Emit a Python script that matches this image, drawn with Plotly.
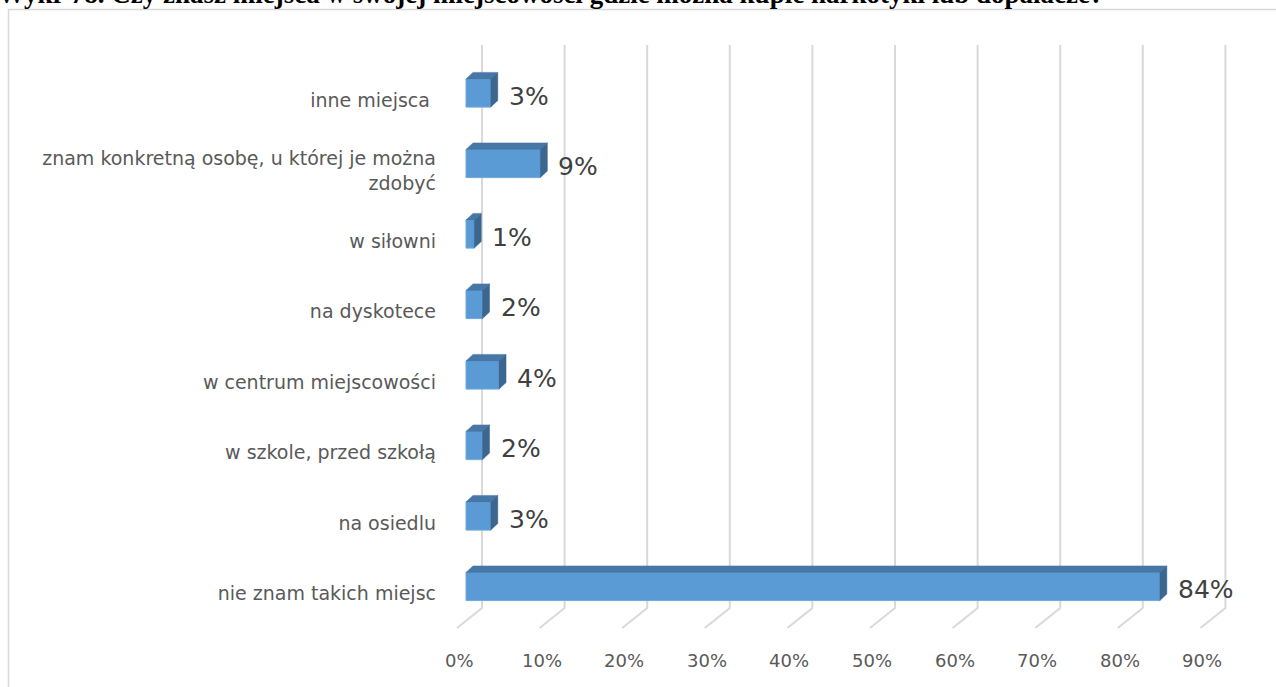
import plotly.graph_objects as go

# ---- data ----
categories = [
    "nie znam takich miejsc",
    "na osiedlu",
    "w szkole, przed szkołą",
    "w centrum miejscowości",
    "na dyskotece",
    "w siłowni",
    "znam konkretną osobę, u której je można<br>zdobyć",
    "inne miejsca ",
]
values = [84, 3, 2, 4, 2, 1, 9, 3]
x_ticks = [0, 10, 20, 30, 40, 50, 60, 70, 80, 90]
x_tick_labels = ["0%", "10%", "20%", "30%", "40%", "50%", "60%", "70%", "80%", "90%"]
title_text = ("<b>Wykr 78. Czy znasz miejsca</b> w <b>swojej miejscowości gdzie można "
              "kupić narkotyki lub dopalacze?</b>")

# ---- layout geometry (pixels) ----
W, H = 1276, 687
ML, MR, MT, MB = 437, 20, 40, 8
PW, PH = W - ML - MR, H - MT - MB
PX_PER_X = 8.26            # pixels per percent
PX_PER_Y = 70.5            # pixels per category
X0_PX = 466                # pixel of x=0 (bar front face)
Y0_PX = 586.5              # pixel of first category centre
xmin = -(X0_PX - ML) / PX_PER_X
xmax = xmin + PW / PX_PER_X
ymin = -(MT + PH - Y0_PX) / PX_PER_Y
ymax = ymin + PH / PX_PER_Y

def dx(px):
    return px / PX_PER_X

def dy(px):
    return px / PX_PER_Y

def py_to_y(py):
    return (Y0_PX - py) / PX_PER_Y

def px_paper(px):
    return (px - ML) / PW

def py_paper(py):
    return (MT + PH - py) / PH

BAR_W = 0.4
DEPTH_X = dx(7)
DEPTH_Y = dy(6.5)

FRONT = "#5b9bd5"
TOP = "#4677a6"
SIDE = "#3a6690"
GRID = "#d9d9d9"

fig = go.Figure()

# 3D-style gridlines (back vertical line + floor diagonal), kept below the bars
back_off = dx(16)
front_off = dx(-9)
g_top = py_to_y(45)
g_bot = py_to_y(608)
g_front = py_to_y(628)
for t in x_ticks:
    fig.add_shape(type="path", xref="x", yref="y", layer="below",
                  path=(f"M {t + back_off},{g_top} L {t + back_off},{g_bot} "
                        f"L {t + front_off},{g_front}"),
                  line=dict(color=GRID, width=2))

ypos = list(range(len(categories)))

# front faces
fig.add_trace(go.Bar(x=values, y=ypos, orientation="h", width=BAR_W,
                     marker=dict(color=FRONT, line=dict(color="#6fa8dc", width=1)),
                     showlegend=False, hoverinfo="skip"))

# top and side faces
tx, ty, sx, sy = [], [], [], []
for i, v in zip(ypos, values):
    tx += [0, v, v + DEPTH_X, DEPTH_X, 0, None]
    ty += [i + BAR_W / 2, i + BAR_W / 2, i + BAR_W / 2 + DEPTH_Y,
           i + BAR_W / 2 + DEPTH_Y, i + BAR_W / 2, None]
    sx += [v, v, v + DEPTH_X, v + DEPTH_X, v, None]
    sy += [i - BAR_W / 2, i + BAR_W / 2, i + BAR_W / 2 + DEPTH_Y,
           i - BAR_W / 2 + DEPTH_Y, i - BAR_W / 2, None]
fig.add_trace(go.Scatter(x=tx, y=ty, mode="lines", fill="toself",
                         fillcolor=TOP, line=dict(color=TOP, width=0.5),
                         hoverinfo="skip", showlegend=False))
fig.add_trace(go.Scatter(x=sx, y=sy, mode="lines", fill="toself",
                         fillcolor=SIDE, line=dict(color=SIDE, width=0.5),
                         hoverinfo="skip", showlegend=False))

# data labels
for i, v in zip(ypos, values):
    fig.add_annotation(x=v + DEPTH_X, y=i, text=f"{v}%", showarrow=False,
                       xanchor="left", yanchor="middle", xshift=9, yshift=-3,
                       font=dict(family="DejaVu Sans", size=25, color="#404040"))

# x tick labels under the floor ends
for t, lab in zip(x_ticks, x_tick_labels):
    fig.add_annotation(x=t + dx(-7), y=py_to_y(660), text=lab, showarrow=False,
                       xanchor="center", yanchor="middle",
                       font=dict(family="DejaVu Sans", size=18, color="#595959"))

# title (partially cut off at top of page, as in the reference)
fig.add_annotation(xref="paper", yref="paper", x=px_paper(-4), y=py_paper(11.5),
                   text=title_text, showarrow=False, xanchor="left", yanchor="bottom",
                   font=dict(family="Liberation Serif", size=27, color="#000000"))

# chart frame
fig.add_shape(type="rect", xref="paper", yref="paper",
              x0=px_paper(8.5), y0=py_paper(9.5), x1=px_paper(1300), y1=py_paper(720),
              line=dict(color=GRID, width=1.5), fillcolor="rgba(0,0,0,0)", layer="below")

fig.update_layout(
    width=W, height=H,
    margin=dict(l=ML, r=MR, t=MT, b=MB),
    paper_bgcolor="white", plot_bgcolor="white",
    xaxis=dict(range=[xmin, xmax], showgrid=False, zeroline=False,
               showticklabels=False, showline=False, fixedrange=True),
    yaxis=dict(range=[ymin, ymax], showgrid=False, zeroline=False, showline=False,
               tickmode="array", tickvals=[i - 0.1 for i in ypos], ticktext=categories,
               tickfont=dict(family="DejaVu Sans", size=19, color="#595959"),
               ticks="", ticklabelstandoff=0, fixedrange=True),
    bargap=0.6,
)

fig.write_html("out.html", config={"displayModeBar": False},
               post_script="document.body.style.margin='0';document.body.style.overflow='hidden';")
